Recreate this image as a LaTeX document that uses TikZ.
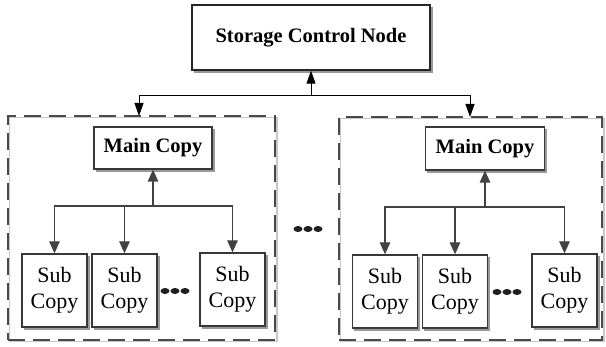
\documentclass[tikz,border=0pt]{standalone}
\usepackage{fontspec}
\setmainfont{Liberation Serif}
\usetikzlibrary{arrows.meta,backgrounds}
\definecolor{boxline}{HTML}{383838}
\definecolor{linegray}{HTML}{424242}
\definecolor{dashgray}{HTML}{4A4A4A}
\begin{document}
\begin{tikzpicture}[x=1pt,y=-1pt,
  box/.style={draw=boxline, line width=1.3pt, fill=white, inner sep=0pt},
  topbox/.style={box, draw=black!85, minimum width=238pt, minimum height=65pt,
    font=\fontsize{20.5}{24}\selectfont\bfseries},
  mainbox/.style={box, minimum width=118pt, minimum height=42pt,
    font=\fontsize{20.5}{24}\selectfont\bfseries},
  subbox/.style={box, minimum width=65pt, minimum height=73pt, align=center,
    font=\fontsize{22}{26}\selectfont},
  shade/.style={fill=black!40},
  group/.style={draw=dashgray, line width=2.4pt, dash pattern=on 17pt off 8pt,
    inner sep=0pt},
  groupshade/.style={draw=black!22, line width=1.2pt},
  barr/.style={draw=black, line width=0.9pt, -{Triangle[length=13pt,width=9pt]}},
  garr/.style={draw=linegray, line width=1.3pt, -{Triangle[length=12pt,width=10.5pt]}},
  dotfill/.style={fill=black!88}
]
\useasboundingbox (0,0) rectangle (606,347);

% dashed group frames with a faint solid shade behind them
\draw[groupshade] (9.5,117.5) rectangle (277,341.5);
\draw[groupshade] (340.5,118.5) rectangle (604,341.5);
\node[group, minimum width=267pt, minimum height=224pt] (gL) at (141.5,228) {};
\node[group, minimum width=263pt, minimum height=223pt] (gR) at (470.5,228.5) {};

% top-level node
\node[topbox] (top) at (311,37.5) {Storage Control Node};

% left group
\node[mainbox] (mL) at (153,148) {Main Copy};
\node[subbox] (sL1) at (54.5,290.5) {Sub\\Copy};
\node[subbox] (sL2) at (124.5,290.5) {Sub\\Copy};
\node[subbox] (sL3) at (232.5,289.5) {Sub\\Copy};

% right group
\node[mainbox, minimum width=119pt, minimum height=43pt] (mR) at (485,148.5) {Main Copy};
\node[subbox] (sR1) at (385,291.5) {Sub\\Copy};
\node[subbox] (sR2) at (455,291.5) {Sub\\Copy};
\node[subbox] (sR3) at (564.5,290.5) {Sub\\Copy};

% offset shadows under every solid box
\begin{pgfonlayer}{background}
  \foreach \n in {top,mL,sL1,sL2,sL3,mR,sR1,sR2,sR3}
    \fill[shade] ([shift={(2.3,2.3)}]\n.south west) rectangle ([shift={(2.3,2.3)}]\n.north east);
\end{pgfonlayer}

% top connectors
\coordinate (jT) at (311,95.5);
\coordinate (inL) at (139,116);
\coordinate (inR) at (470,117);
\draw[barr] (jT) -- (top.south);
\draw[barr] (jT) -| (inL);
\draw[barr] (jT) -| (inR);

% left group connectors
\coordinate (jL) at (153,206);
\draw[garr] (jL) -- (mL.south);
\draw[garr] (jL) -| (sL1.north);
\draw[garr] (jL) -| (sL3.north);
\draw[garr] (sL2.north |- jL) -- (sL2.north);

% right group connectors
\coordinate (jR) at (485,207);
\draw[garr] (jR) -- (mR.south);
\draw[garr] (jR) -| (sR1.north);
\draw[garr] (jR) -| (sR3.north);
\draw[garr] (sR2.north |- jR) -- (sR2.north);

% ellipsis marks
\foreach \cx/\cy in {175/291, 507/292, 308/229}
  \foreach \d in {-10,0,10}
    \fill[dotfill] (\cx+\d,\cy) ellipse [x radius=4.5, y radius=3];
\end{tikzpicture}
\end{document}
